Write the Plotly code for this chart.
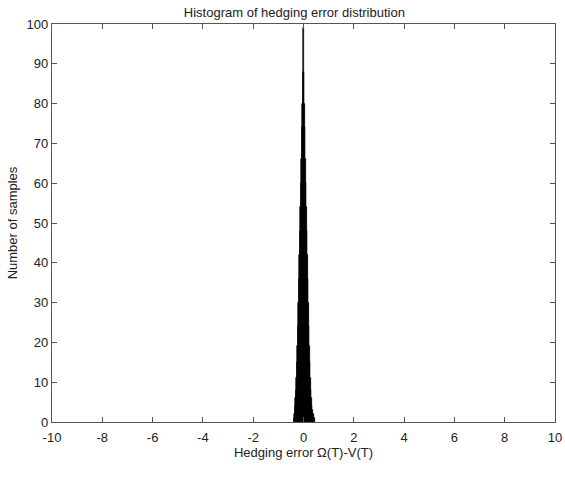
import plotly.graph_objects as go

# Histogram bin centers (hedging error) and counts
bin_centers = [-0.38, -0.36, -0.34, -0.32, -0.30, -0.28, -0.26, -0.24, -0.22, -0.20,
               -0.18, -0.16, -0.14, -0.12, -0.10, -0.08, -0.06, -0.04, -0.02, 0.00,
               0.02, 0.04, 0.06, 0.08, 0.10, 0.12, 0.14, 0.16, 0.18, 0.20,
               0.22, 0.24, 0.26, 0.28, 0.30, 0.32, 0.34, 0.36, 0.38, 0.40, 0.42, 0.44]
counts = [1, 2, 4, 6, 8, 11, 15, 19, 24, 30,
          36, 42, 48, 54, 60, 66, 74, 80, 88, 99,
          88, 80, 74, 66, 60, 54, 48, 42, 36, 30,
          24, 19, 15, 11, 8, 6, 4, 3, 2, 2, 1, 1]
bin_width = 0.02

x_ticks = [-10, -8, -6, -4, -2, 0, 2, 4, 6, 8, 10]
y_ticks = [0, 10, 20, 30, 40, 50, 60, 70, 80, 90, 100]

fig = go.Figure()
fig.add_trace(go.Bar(
    x=bin_centers, y=counts, width=bin_width,
    marker=dict(color="black", line=dict(width=0.6, color="black")),
    showlegend=False,
))

font = dict(family="Liberation Sans, Arial, sans-serif", size=13, color="#222222")
axis_common = dict(
    showline=True, linecolor="#555555", linewidth=1.2, mirror="allticks",
    ticks="inside", ticklen=5, tickcolor="#555555", tickwidth=1,
    showgrid=False, zeroline=False, tickfont=font, automargin=False,
)
fig.update_layout(
    width=565, height=480,
    margin=dict(l=52, r=10, t=24, b=58),
    paper_bgcolor="white", plot_bgcolor="white",
    bargap=0,
    title=dict(text="Histogram of hedging error distribution", x=0.521, xanchor="center",
               y=1 - 12 / 480, yanchor="middle", yref="container", font=font,
               automargin=False),
    xaxis=dict(range=[-10, 10], tickvals=x_ticks, ticktext=[str(v) for v in x_ticks],
               ticklabelstandoff=3,
               title=dict(text="Hedging error Ω(T)-V(T)", font=font, standoff=0),
               **axis_common),
    yaxis=dict(range=[0, 100], tickvals=y_ticks, ticktext=[str(v) for v in y_ticks],
               title=dict(text="Number of samples", font=font, standoff=6),
               **axis_common),
)
fig.write_html("out.html")
